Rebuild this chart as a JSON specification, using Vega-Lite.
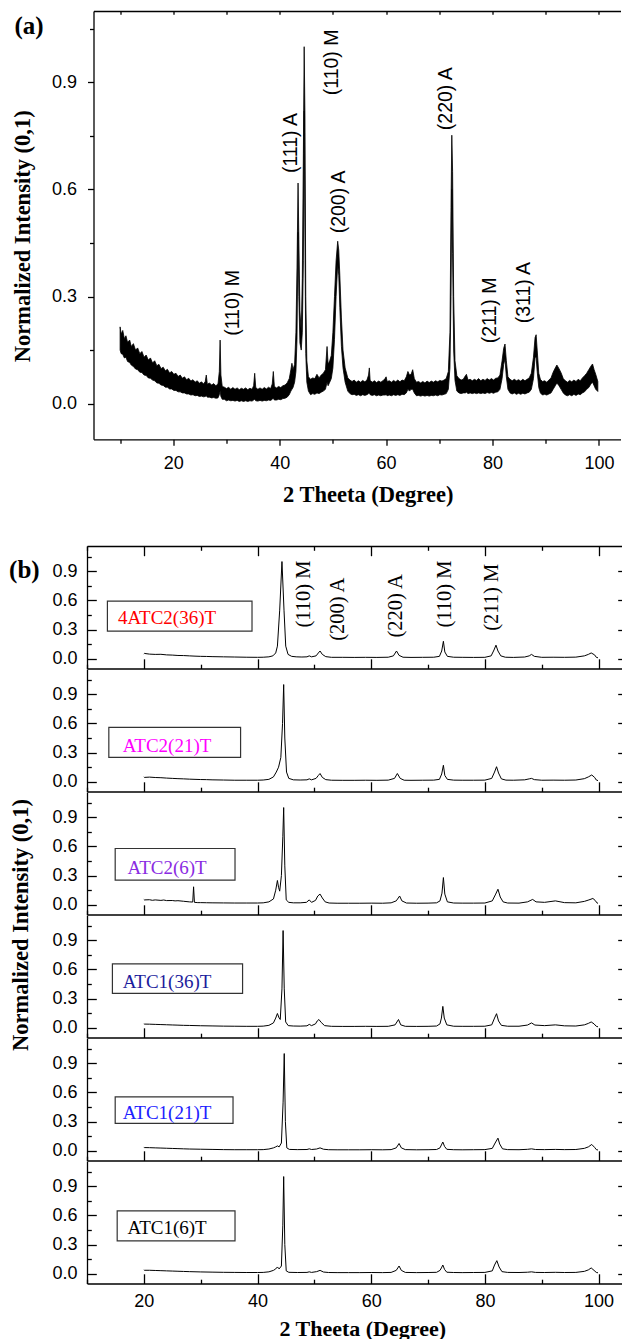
{
  "$schema": "https://vega.github.io/schema/vega-lite/v6.json",
  "padding": {"left": 8, "top": 10, "right": 0, "bottom": 0},
  "bounds": "flush",
  "center": true,
  "spacing": 0,
  "config": {
    "view": {"stroke": null},
    "axis": {"domainColor": "black", "tickColor": "black", "labelColor": "black", "titleColor": "black", "grid": false,
      "labelFont": "Liberation Sans", "labelFontSize": 18, "titleFont": "Liberation Serif", "titleFontSize": 22.5,
      "titleFontWeight": "bold", "domainWidth": 1.3, "tickWidth": 1.3, "labelFlush": false, "labelOverlap": false}
  },
  "datasets": {
    "a": [
      {"x":10,"lo":0.150,"hi":0.215},{"x":10.2,"lo":0.140,"hi":0.195},{"x":10.5,"lo":0.138,"hi":0.205},{"x":10.8,"lo":0.128,"hi":0.182},{"x":11.1,"lo":0.130,"hi":0.190},{"x":11.4,"lo":0.118,"hi":0.172},{"x":11.8,"lo":0.115,"hi":0.178},{"x":12.1,"lo":0.108,"hi":0.160},{"x":12.5,"lo":0.104,"hi":0.168},{"x":12.9,"lo":0.097,"hi":0.150},{"x":13.3,"lo":0.095,"hi":0.156},{"x":13.7,"lo":0.088,"hi":0.140},{"x":14.1,"lo":0.087,"hi":0.146},{"x":14.5,"lo":0.080,"hi":0.130},{"x":14.9,"lo":0.079,"hi":0.136},{"x":15.3,"lo":0.072,"hi":0.122},{"x":15.7,"lo":0.071,"hi":0.128},{"x":16.1,"lo":0.066,"hi":0.114},{"x":16.5,"lo":0.064,"hi":0.120},{"x":16.9,"lo":0.058,"hi":0.106},{"x":17.3,"lo":0.057,"hi":0.110},{"x":17.7,"lo":0.052,"hi":0.098},{"x":18.1,"lo":0.051,"hi":0.102},{"x":18.5,"lo":0.046,"hi":0.092},{"x":18.9,"lo":0.046,"hi":0.096},{"x":19.3,"lo":0.041,"hi":0.086},{"x":19.7,"lo":0.041,"hi":0.090},{"x":20.1,"lo":0.037,"hi":0.082},{"x":20.5,"lo":0.037,"hi":0.085},{"x":20.9,"lo":0.033,"hi":0.076},{"x":21.3,"lo":0.033,"hi":0.080},{"x":21.7,"lo":0.030,"hi":0.071},{"x":22.1,"lo":0.030,"hi":0.075},{"x":22.5,"lo":0.027,"hi":0.067},{"x":22.9,"lo":0.027,"hi":0.071},{"x":23.3,"lo":0.024,"hi":0.063},{"x":23.7,"lo":0.025,"hi":0.067},{"x":24.1,"lo":0.022,"hi":0.060},{"x":24.5,"lo":0.023,"hi":0.064},{"x":24.9,"lo":0.020,"hi":0.057},{"x":25.3,"lo":0.021,"hi":0.061},{"x":25.7,"lo":0.019,"hi":0.055},{"x":26.0,"lo":0.020,"hi":0.062},{"x":26.2,"lo":0.022,"hi":0.080},{"x":26.4,"lo":0.018,"hi":0.054},{"x":26.8,"lo":0.018,"hi":0.058},{"x":27.2,"lo":0.016,"hi":0.052},{"x":27.6,"lo":0.017,"hi":0.056},{"x":28.0,"lo":0.015,"hi":0.050},{"x":28.4,"lo":0.016,"hi":0.055},{"x":28.65,"lo":0.025,"hi":0.090},{"x":28.8,"lo":0.035,"hi":0.178},{"x":28.95,"lo":0.020,"hi":0.080},{"x":29.2,"lo":0.012,"hi":0.048},{"x":29.6,"lo":0.012,"hi":0.046},{"x":30.0,"lo":0.008,"hi":0.042},{"x":30.4,"lo":0.010,"hi":0.046},{"x":30.8,"lo":0.008,"hi":0.040},{"x":31.2,"lo":0.009,"hi":0.045},{"x":31.6,"lo":0.007,"hi":0.040},{"x":32.0,"lo":0.009,"hi":0.044},{"x":32.4,"lo":0.006,"hi":0.039},{"x":32.8,"lo":0.008,"hi":0.043},{"x":33.2,"lo":0.006,"hi":0.040},{"x":33.6,"lo":0.008,"hi":0.044},{"x":34.0,"lo":0.006,"hi":0.039},{"x":34.4,"lo":0.008,"hi":0.043},{"x":34.8,"lo":0.007,"hi":0.040},{"x":35.1,"lo":0.010,"hi":0.050},{"x":35.3,"lo":0.012,"hi":0.085},{"x":35.5,"lo":0.008,"hi":0.045},{"x":35.9,"lo":0.007,"hi":0.040},{"x":36.3,"lo":0.009,"hi":0.044},{"x":36.7,"lo":0.007,"hi":0.040},{"x":37.1,"lo":0.009,"hi":0.045},{"x":37.5,"lo":0.008,"hi":0.041},{"x":37.9,"lo":0.010,"hi":0.046},{"x":38.3,"lo":0.009,"hi":0.042},{"x":38.6,"lo":0.012,"hi":0.055},{"x":38.8,"lo":0.015,"hi":0.090},{"x":39.0,"lo":0.010,"hi":0.048},{"x":39.4,"lo":0.010,"hi":0.044},{"x":39.8,"lo":0.012,"hi":0.048},{"x":40.2,"lo":0.011,"hi":0.045},{"x":40.6,"lo":0.014,"hi":0.050},{"x":41.0,"lo":0.015,"hi":0.052},{"x":41.4,"lo":0.018,"hi":0.058},{"x":41.8,"lo":0.025,"hi":0.070},{"x":42.1,"lo":0.035,"hi":0.095},{"x":42.3,"lo":0.040,"hi":0.113},{"x":42.5,"lo":0.045,"hi":0.095},{"x":42.8,"lo":0.060,"hi":0.110},{"x":43.05,"lo":0.090,"hi":0.200},{"x":43.25,"lo":0.180,"hi":0.380},{"x":43.45,"lo":0.480,"hi":0.618},{"x":43.6,"lo":0.300,"hi":0.460},{"x":43.8,"lo":0.170,"hi":0.260},{"x":44.05,"lo":0.150,"hi":0.200},{"x":44.25,"lo":0.200,"hi":0.350},{"x":44.45,"lo":0.400,"hi":0.700},{"x":44.6,"lo":0.820,"hi":1.000},{"x":44.75,"lo":0.450,"hi":0.800},{"x":44.9,"lo":0.140,"hi":0.300},{"x":45.1,"lo":0.060,"hi":0.120},{"x":45.4,"lo":0.035,"hi":0.075},{"x":45.8,"lo":0.025,"hi":0.068},{"x":46.2,"lo":0.028,"hi":0.072},{"x":46.6,"lo":0.026,"hi":0.070},{"x":47.0,"lo":0.030,"hi":0.082},{"x":47.4,"lo":0.028,"hi":0.072},{"x":47.8,"lo":0.032,"hi":0.080},{"x":48.2,"lo":0.035,"hi":0.085},{"x":48.6,"lo":0.040,"hi":0.095},{"x":48.9,"lo":0.060,"hi":0.160},{"x":49.1,"lo":0.050,"hi":0.110},{"x":49.4,"lo":0.060,"hi":0.120},{"x":49.7,"lo":0.070,"hi":0.135},{"x":50.0,"lo":0.100,"hi":0.200},{"x":50.3,"lo":0.180,"hi":0.300},{"x":50.6,"lo":0.300,"hi":0.400},{"x":50.9,"lo":0.390,"hi":0.455},{"x":51.1,"lo":0.360,"hi":0.430},{"x":51.3,"lo":0.270,"hi":0.360},{"x":51.6,"lo":0.160,"hi":0.240},{"x":51.9,"lo":0.100,"hi":0.150},{"x":52.3,"lo":0.060,"hi":0.100},{"x":52.8,"lo":0.035,"hi":0.072},{"x":53.2,"lo":0.028,"hi":0.066},{"x":53.6,"lo":0.025,"hi":0.062},{"x":54.0,"lo":0.026,"hi":0.066},{"x":54.4,"lo":0.023,"hi":0.060},{"x":54.8,"lo":0.025,"hi":0.064},{"x":55.2,"lo":0.022,"hi":0.060},{"x":55.6,"lo":0.025,"hi":0.065},{"x":56.0,"lo":0.023,"hi":0.061},{"x":56.4,"lo":0.025,"hi":0.066},{"x":56.7,"lo":0.028,"hi":0.080},{"x":56.85,"lo":0.030,"hi":0.100},{"x":57.0,"lo":0.025,"hi":0.065},{"x":57.4,"lo":0.023,"hi":0.060},{"x":57.8,"lo":0.025,"hi":0.064},{"x":58.2,"lo":0.022,"hi":0.059},{"x":58.6,"lo":0.024,"hi":0.063},{"x":59.0,"lo":0.022,"hi":0.060},{"x":59.4,"lo":0.024,"hi":0.064},{"x":59.8,"lo":0.024,"hi":0.070},{"x":60.0,"lo":0.025,"hi":0.075},{"x":60.2,"lo":0.022,"hi":0.062},{"x":60.6,"lo":0.024,"hi":0.064},{"x":61.0,"lo":0.022,"hi":0.060},{"x":61.4,"lo":0.025,"hi":0.065},{"x":61.8,"lo":0.023,"hi":0.061},{"x":62.2,"lo":0.025,"hi":0.066},{"x":62.6,"lo":0.023,"hi":0.061},{"x":63.0,"lo":0.026,"hi":0.066},{"x":63.4,"lo":0.025,"hi":0.064},{"x":63.8,"lo":0.030,"hi":0.075},{"x":64.1,"lo":0.040,"hi":0.090},{"x":64.4,"lo":0.035,"hi":0.080},{"x":64.7,"lo":0.040,"hi":0.082},{"x":65.0,"lo":0.040,"hi":0.095},{"x":65.3,"lo":0.030,"hi":0.070},{"x":65.7,"lo":0.022,"hi":0.060},{"x":66.1,"lo":0.023,"hi":0.062},{"x":66.5,"lo":0.021,"hi":0.058},{"x":66.9,"lo":0.023,"hi":0.062},{"x":67.3,"lo":0.021,"hi":0.058},{"x":67.7,"lo":0.023,"hi":0.063},{"x":68.1,"lo":0.021,"hi":0.059},{"x":68.5,"lo":0.023,"hi":0.063},{"x":68.9,"lo":0.022,"hi":0.060},{"x":69.3,"lo":0.024,"hi":0.064},{"x":69.7,"lo":0.022,"hi":0.061},{"x":70.1,"lo":0.025,"hi":0.065},{"x":70.5,"lo":0.024,"hi":0.063},{"x":70.9,"lo":0.026,"hi":0.066},{"x":71.3,"lo":0.028,"hi":0.070},{"x":71.7,"lo":0.040,"hi":0.090},{"x":72.0,"lo":0.100,"hi":0.200},{"x":72.2,"lo":0.300,"hi":0.550},{"x":72.35,"lo":0.600,"hi":0.752},{"x":72.5,"lo":0.420,"hi":0.650},{"x":72.7,"lo":0.150,"hi":0.300},{"x":72.95,"lo":0.065,"hi":0.120},{"x":73.3,"lo":0.035,"hi":0.078},{"x":73.7,"lo":0.030,"hi":0.070},{"x":74.1,"lo":0.028,"hi":0.066},{"x":74.5,"lo":0.030,"hi":0.068},{"x":74.9,"lo":0.030,"hi":0.078},{"x":75.1,"lo":0.032,"hi":0.082},{"x":75.4,"lo":0.028,"hi":0.066},{"x":75.8,"lo":0.030,"hi":0.068},{"x":76.2,"lo":0.028,"hi":0.064},{"x":76.6,"lo":0.030,"hi":0.068},{"x":77.0,"lo":0.028,"hi":0.065},{"x":77.4,"lo":0.030,"hi":0.070},{"x":77.8,"lo":0.028,"hi":0.064},{"x":78.2,"lo":0.030,"hi":0.068},{"x":78.6,"lo":0.028,"hi":0.065},{"x":79.0,"lo":0.031,"hi":0.070},{"x":79.4,"lo":0.029,"hi":0.066},{"x":79.8,"lo":0.031,"hi":0.070},{"x":80.2,"lo":0.029,"hi":0.066},{"x":80.6,"lo":0.032,"hi":0.071},{"x":81.0,"lo":0.033,"hi":0.072},{"x":81.4,"lo":0.040,"hi":0.080},{"x":81.8,"lo":0.070,"hi":0.120},{"x":82.1,"lo":0.110,"hi":0.155},{"x":82.35,"lo":0.125,"hi":0.167},{"x":82.6,"lo":0.075,"hi":0.120},{"x":82.9,"lo":0.040,"hi":0.075},{"x":83.3,"lo":0.030,"hi":0.068},{"x":83.7,"lo":0.027,"hi":0.064},{"x":84.1,"lo":0.030,"hi":0.068},{"x":84.5,"lo":0.026,"hi":0.064},{"x":84.9,"lo":0.029,"hi":0.067},{"x":85.3,"lo":0.026,"hi":0.063},{"x":85.7,"lo":0.029,"hi":0.068},{"x":86.1,"lo":0.027,"hi":0.064},{"x":86.5,"lo":0.030,"hi":0.068},{"x":86.9,"lo":0.032,"hi":0.072},{"x":87.3,"lo":0.040,"hi":0.085},{"x":87.7,"lo":0.070,"hi":0.130},{"x":88.0,"lo":0.130,"hi":0.185},{"x":88.2,"lo":0.130,"hi":0.193},{"x":88.4,"lo":0.090,"hi":0.150},{"x":88.7,"lo":0.045,"hi":0.085},{"x":89.0,"lo":0.030,"hi":0.068},{"x":89.4,"lo":0.024,"hi":0.062},{"x":89.8,"lo":0.026,"hi":0.064},{"x":90.2,"lo":0.024,"hi":0.060},{"x":90.6,"lo":0.027,"hi":0.066},{"x":91.0,"lo":0.030,"hi":0.072},{"x":91.4,"lo":0.040,"hi":0.088},{"x":91.8,"lo":0.050,"hi":0.100},{"x":92.1,"lo":0.058,"hi":0.108},{"x":92.5,"lo":0.050,"hi":0.098},{"x":92.9,"lo":0.040,"hi":0.086},{"x":93.3,"lo":0.030,"hi":0.070},{"x":93.7,"lo":0.024,"hi":0.064},{"x":94.1,"lo":0.022,"hi":0.060},{"x":94.5,"lo":0.025,"hi":0.065},{"x":94.9,"lo":0.022,"hi":0.061},{"x":95.3,"lo":0.026,"hi":0.066},{"x":95.7,"lo":0.023,"hi":0.062},{"x":96.1,"lo":0.027,"hi":0.068},{"x":96.5,"lo":0.025,"hi":0.064},{"x":96.9,"lo":0.030,"hi":0.072},{"x":97.3,"lo":0.033,"hi":0.078},{"x":97.7,"lo":0.040,"hi":0.085},{"x":98.1,"lo":0.045,"hi":0.095},{"x":98.5,"lo":0.055,"hi":0.105},{"x":98.8,"lo":0.060,"hi":0.111},{"x":99.1,"lo":0.050,"hi":0.095},{"x":99.4,"lo":0.040,"hi":0.082},{"x":99.8,"lo":0.034,"hi":0.062}
    ],
    "aLabels": [
      {"x":31.3,"y":0.19,"t":"(110) M"},{"x":42.1,"y":0.646,"t":"(111) A"},{"x":49.8,"y":0.864,"t":"(110) M"},{"x":51.1,"y":0.477,"t":"(200) A"},{"x":71.2,"y":0.766,"t":"(220) A"},{"x":79.6,"y":0.169,"t":"(211) M"},{"x":85.9,"y":0.225,"t":"(311) A"}
    ],
    "b1": [
      {"x":20,"y":0.050},{"x":20.1,"y":0.055},{"x":21,"y":0.048},{"x":22,"y":0.045},{"x":23,"y":0.046},{"x":24,"y":0.040},{"x":25,"y":0.038},{"x":26,"y":0.034},{"x":27,"y":0.033},{"x":28,"y":0.030},{"x":29,"y":0.027},{"x":30,"y":0.025},{"x":31,"y":0.024},{"x":32,"y":0.022},{"x":34,"y":0.020},{"x":36,"y":0.018},{"x":38,"y":0.016},{"x":40,"y":0.015},{"x":41,"y":0.016},{"x":42,"y":0.020},{"x":42.7,"y":0.030},{"x":43.2,"y":0.060},{"x":43.5,"y":0.130},{"x":43.9,"y":0.500},{"x":44.3,"y":1.000},{"x":44.66,"y":0.500},{"x":44.96,"y":0.130},{"x":45.37,"y":0.045},{"x":46,"y":0.025},{"x":46.8,"y":0.020},{"x":47.8,"y":0.018},{"x":48.7,"y":0.020},{"x":49.1,"y":0.030},{"x":49.5,"y":0.020},{"x":50.3,"y":0.030},{"x":50.7,"y":0.060},{"x":51.0,"y":0.080},{"x":51.4,"y":0.045},{"x":52.0,"y":0.022},{"x":53,"y":0.015},{"x":55,"y":0.015},{"x":57,"y":0.014},{"x":59,"y":0.015},{"x":61,"y":0.014},{"x":63,"y":0.016},{"x":63.9,"y":0.030},{"x":64.45,"y":0.080},{"x":64.9,"y":0.035},{"x":65.6,"y":0.016},{"x":67,"y":0.014},{"x":69,"y":0.015},{"x":71,"y":0.016},{"x":72.0,"y":0.025},{"x":72.4,"y":0.080},{"x":72.7,"y":0.180},{"x":72.95,"y":0.070},{"x":73.4,"y":0.025},{"x":74.5,"y":0.016},{"x":76,"y":0.015},{"x":78,"y":0.014},{"x":80,"y":0.015},{"x":81.1,"y":0.030},{"x":81.6,"y":0.090},{"x":81.95,"y":0.140},{"x":82.3,"y":0.080},{"x":82.8,"y":0.030},{"x":83.6,"y":0.016},{"x":85,"y":0.014},{"x":87,"y":0.018},{"x":87.8,"y":0.030},{"x":88.2,"y":0.045},{"x":88.7,"y":0.025},{"x":90,"y":0.015},{"x":92,"y":0.016},{"x":94,"y":0.015},{"x":96,"y":0.017},{"x":97.5,"y":0.030},{"x":98.2,"y":0.045},{"x":98.7,"y":0.060},{"x":99.3,"y":0.040},{"x":99.6,"y":0.015},{"x":99.9,"y":0.010}
    ],
    "b2": [
      {"x":20,"y":0.050},{"x":20.1,"y":0.045},{"x":21,"y":0.048},{"x":22,"y":0.044},{"x":23,"y":0.042},{"x":24,"y":0.038},{"x":25,"y":0.035},{"x":26,"y":0.032},{"x":27,"y":0.030},{"x":28,"y":0.027},{"x":29,"y":0.025},{"x":30,"y":0.023},{"x":31,"y":0.022},{"x":32,"y":0.020},{"x":34,"y":0.018},{"x":36,"y":0.016},{"x":38,"y":0.016},{"x":40,"y":0.016},{"x":41,"y":0.018},{"x":42,"y":0.025},{"x":42.8,"y":0.050},{"x":43.3,"y":0.100},{"x":43.7,"y":0.150},{"x":44.1,"y":0.250},{"x":44.4,"y":0.600},{"x":44.6,"y":1.000},{"x":44.8,"y":0.450},{"x":45.1,"y":0.100},{"x":45.5,"y":0.035},{"x":46.3,"y":0.020},{"x":47.5,"y":0.018},{"x":48.7,"y":0.020},{"x":49.1,"y":0.030},{"x":49.5,"y":0.020},{"x":50.3,"y":0.035},{"x":50.7,"y":0.065},{"x":51.0,"y":0.085},{"x":51.4,"y":0.045},{"x":52.0,"y":0.022},{"x":53,"y":0.016},{"x":55,"y":0.015},{"x":57,"y":0.015},{"x":59,"y":0.016},{"x":61,"y":0.015},{"x":63,"y":0.017},{"x":64.1,"y":0.035},{"x":64.6,"y":0.085},{"x":65.1,"y":0.035},{"x":65.8,"y":0.016},{"x":67,"y":0.015},{"x":69,"y":0.016},{"x":71,"y":0.017},{"x":72.0,"y":0.025},{"x":72.4,"y":0.080},{"x":72.7,"y":0.170},{"x":72.95,"y":0.065},{"x":73.4,"y":0.025},{"x":74.5,"y":0.017},{"x":76,"y":0.016},{"x":78,"y":0.016},{"x":80,"y":0.017},{"x":81.2,"y":0.035},{"x":81.7,"y":0.100},{"x":82.05,"y":0.155},{"x":82.4,"y":0.090},{"x":82.9,"y":0.030},{"x":83.7,"y":0.017},{"x":85,"y":0.016},{"x":87,"y":0.020},{"x":87.8,"y":0.030},{"x":88.2,"y":0.035},{"x":88.7,"y":0.022},{"x":90,"y":0.016},{"x":92,"y":0.017},{"x":94,"y":0.016},{"x":96,"y":0.018},{"x":97.5,"y":0.032},{"x":98.2,"y":0.050},{"x":98.8,"y":0.070},{"x":99.3,"y":0.045},{"x":99.6,"y":0.018},{"x":99.9,"y":0.012}
    ],
    "b3": [
      {"x":20,"y":0.055},{"x":20.1,"y":0.050},{"x":21,"y":0.052},{"x":21.5,"y":0.046},{"x":22,"y":0.050},{"x":23,"y":0.045},{"x":23.5,"y":0.049},{"x":24,"y":0.043},{"x":25,"y":0.044},{"x":25.5,"y":0.040},{"x":26,"y":0.042},{"x":27,"y":0.036},{"x":28,"y":0.030},{"x":28.6,"y":0.028},{"x":28.75,"y":0.185},{"x":28.9,"y":0.025},{"x":29.5,"y":0.022},{"x":30,"y":0.022},{"x":31,"y":0.021},{"x":32,"y":0.020},{"x":34,"y":0.019},{"x":36,"y":0.018},{"x":38,"y":0.018},{"x":40,"y":0.018},{"x":41,"y":0.020},{"x":42,"y":0.030},{"x":42.8,"y":0.060},{"x":43.2,"y":0.150},{"x":43.5,"y":0.250},{"x":43.7,"y":0.180},{"x":43.9,"y":0.140},{"x":44.2,"y":0.300},{"x":44.45,"y":0.700},{"x":44.6,"y":1.000},{"x":44.8,"y":0.400},{"x":45.05,"y":0.050},{"x":45.5,"y":0.025},{"x":46.3,"y":0.020},{"x":47.5,"y":0.020},{"x":48.6,"y":0.025},{"x":49.1,"y":0.050},{"x":49.5,"y":0.025},{"x":50.2,"y":0.045},{"x":50.6,"y":0.090},{"x":51.0,"y":0.110},{"x":51.4,"y":0.070},{"x":51.9,"y":0.030},{"x":52.6,"y":0.018},{"x":54,"y":0.016},{"x":56,"y":0.016},{"x":58,"y":0.016},{"x":60,"y":0.017},{"x":62,"y":0.016},{"x":63.5,"y":0.020},{"x":64.4,"y":0.040},{"x":65.0,"y":0.090},{"x":65.4,"y":0.040},{"x":66.2,"y":0.018},{"x":68,"y":0.016},{"x":70,"y":0.017},{"x":71.5,"y":0.020},{"x":72.1,"y":0.040},{"x":72.45,"y":0.120},{"x":72.7,"y":0.280},{"x":72.95,"y":0.110},{"x":73.4,"y":0.030},{"x":74.5,"y":0.018},{"x":76,"y":0.017},{"x":78,"y":0.017},{"x":80,"y":0.018},{"x":81.3,"y":0.040},{"x":81.9,"y":0.110},{"x":82.3,"y":0.160},{"x":82.7,"y":0.080},{"x":83.2,"y":0.030},{"x":84,"y":0.018},{"x":86,"y":0.017},{"x":87.5,"y":0.030},{"x":88.4,"y":0.055},{"x":89.0,"y":0.030},{"x":90.5,"y":0.025},{"x":92.4,"y":0.040},{"x":94,"y":0.022},{"x":96,"y":0.020},{"x":97.5,"y":0.035},{"x":98.3,"y":0.050},{"x":99.0,"y":0.065},{"x":99.4,"y":0.045},{"x":99.7,"y":0.020},{"x":99.9,"y":0.015}
    ],
    "b4": [
      {"x":20,"y":0.040},{"x":20.1,"y":0.038},{"x":21,"y":0.037},{"x":22,"y":0.035},{"x":23,"y":0.033},{"x":24,"y":0.031},{"x":25,"y":0.029},{"x":26,"y":0.027},{"x":27,"y":0.025},{"x":28,"y":0.024},{"x":30,"y":0.021},{"x":32,"y":0.019},{"x":34,"y":0.017},{"x":36,"y":0.016},{"x":38,"y":0.015},{"x":40,"y":0.015},{"x":41,"y":0.017},{"x":42,"y":0.025},{"x":42.8,"y":0.050},{"x":43.2,"y":0.100},{"x":43.5,"y":0.147},{"x":43.8,"y":0.100},{"x":44.0,"y":0.085},{"x":44.3,"y":0.400},{"x":44.5,"y":1.000},{"x":44.7,"y":0.400},{"x":44.95,"y":0.060},{"x":45.4,"y":0.022},{"x":46.3,"y":0.018},{"x":47.5,"y":0.017},{"x":48.7,"y":0.020},{"x":49.1,"y":0.035},{"x":49.5,"y":0.022},{"x":50.2,"y":0.040},{"x":50.5,"y":0.070},{"x":50.8,"y":0.085},{"x":51.2,"y":0.055},{"x":51.8,"y":0.022},{"x":53,"y":0.015},{"x":55,"y":0.014},{"x":57,"y":0.014},{"x":59,"y":0.015},{"x":61,"y":0.014},{"x":63,"y":0.015},{"x":64.2,"y":0.030},{"x":64.8,"y":0.085},{"x":65.2,"y":0.030},{"x":66,"y":0.015},{"x":68,"y":0.014},{"x":70,"y":0.015},{"x":71.5,"y":0.018},{"x":72.1,"y":0.040},{"x":72.35,"y":0.100},{"x":72.6,"y":0.220},{"x":72.85,"y":0.100},{"x":73.3,"y":0.030},{"x":74.5,"y":0.016},{"x":76,"y":0.015},{"x":78,"y":0.015},{"x":80,"y":0.016},{"x":81.2,"y":0.030},{"x":81.7,"y":0.100},{"x":82.05,"y":0.145},{"x":82.4,"y":0.070},{"x":82.9,"y":0.025},{"x":84,"y":0.016},{"x":86,"y":0.016},{"x":87.5,"y":0.028},{"x":88.2,"y":0.050},{"x":88.8,"y":0.028},{"x":90.5,"y":0.022},{"x":92.4,"y":0.030},{"x":94,"y":0.020},{"x":96,"y":0.018},{"x":97.5,"y":0.030},{"x":98.2,"y":0.045},{"x":98.7,"y":0.060},{"x":99.2,"y":0.040},{"x":99.6,"y":0.015},{"x":99.9,"y":0.010}
    ],
    "b5": [
      {"x":20,"y":0.035},{"x":20.1,"y":0.033},{"x":21,"y":0.032},{"x":22,"y":0.030},{"x":23,"y":0.028},{"x":24,"y":0.026},{"x":25,"y":0.024},{"x":26,"y":0.022},{"x":27,"y":0.020},{"x":28,"y":0.018},{"x":30,"y":0.016},{"x":32,"y":0.014},{"x":34,"y":0.012},{"x":36,"y":0.011},{"x":38,"y":0.011},{"x":40,"y":0.011},{"x":41,"y":0.012},{"x":42,"y":0.018},{"x":42.8,"y":0.030},{"x":43.2,"y":0.040},{"x":43.5,"y":0.050},{"x":43.8,"y":0.040},{"x":44.2,"y":0.080},{"x":44.5,"y":0.500},{"x":44.7,"y":1.000},{"x":44.9,"y":0.300},{"x":45.15,"y":0.030},{"x":45.6,"y":0.014},{"x":47,"y":0.012},{"x":48.7,"y":0.013},{"x":49.1,"y":0.020},{"x":49.5,"y":0.013},{"x":50.4,"y":0.018},{"x":51.0,"y":0.030},{"x":51.6,"y":0.016},{"x":52.5,"y":0.011},{"x":54,"y":0.010},{"x":56,"y":0.010},{"x":58,"y":0.010},{"x":60,"y":0.011},{"x":62,"y":0.010},{"x":63.5,"y":0.012},{"x":64.4,"y":0.030},{"x":64.9,"y":0.075},{"x":65.3,"y":0.030},{"x":66,"y":0.012},{"x":68,"y":0.010},{"x":70,"y":0.011},{"x":71.5,"y":0.013},{"x":72.1,"y":0.030},{"x":72.35,"y":0.060},{"x":72.6,"y":0.090},{"x":72.9,"y":0.045},{"x":73.3,"y":0.015},{"x":74.5,"y":0.011},{"x":76,"y":0.010},{"x":78,"y":0.011},{"x":80,"y":0.012},{"x":81.3,"y":0.025},{"x":81.8,"y":0.080},{"x":82.3,"y":0.130},{"x":82.6,"y":0.070},{"x":83.1,"y":0.020},{"x":84,"y":0.012},{"x":86,"y":0.011},{"x":87.5,"y":0.015},{"x":88.2,"y":0.020},{"x":88.9,"y":0.013},{"x":90.5,"y":0.012},{"x":92.4,"y":0.014},{"x":94,"y":0.012},{"x":96,"y":0.013},{"x":97.5,"y":0.025},{"x":98.2,"y":0.040},{"x":98.8,"y":0.065},{"x":99.3,"y":0.035},{"x":99.6,"y":0.012},{"x":99.9,"y":0.008}
    ],
    "b6": [
      {"x":20,"y":0.040},{"x":20.1,"y":0.036},{"x":21,"y":0.036},{"x":22,"y":0.034},{"x":23,"y":0.032},{"x":24,"y":0.030},{"x":25,"y":0.028},{"x":26,"y":0.026},{"x":27,"y":0.024},{"x":28,"y":0.022},{"x":30,"y":0.019},{"x":32,"y":0.017},{"x":34,"y":0.015},{"x":36,"y":0.014},{"x":38,"y":0.013},{"x":40,"y":0.013},{"x":41,"y":0.014},{"x":42,"y":0.020},{"x":42.8,"y":0.035},{"x":43.2,"y":0.050},{"x":43.5,"y":0.070},{"x":43.8,"y":0.050},{"x":44.2,"y":0.080},{"x":44.45,"y":0.500},{"x":44.6,"y":1.000},{"x":44.8,"y":0.300},{"x":45.05,"y":0.030},{"x":45.5,"y":0.015},{"x":47,"y":0.013},{"x":48.7,"y":0.014},{"x":49.1,"y":0.020},{"x":49.5,"y":0.014},{"x":50.4,"y":0.022},{"x":51.0,"y":0.035},{"x":51.6,"y":0.018},{"x":52.5,"y":0.013},{"x":54,"y":0.012},{"x":56,"y":0.012},{"x":58,"y":0.012},{"x":60,"y":0.013},{"x":62,"y":0.012},{"x":63.5,"y":0.014},{"x":64.4,"y":0.035},{"x":64.9,"y":0.080},{"x":65.3,"y":0.035},{"x":66,"y":0.014},{"x":68,"y":0.012},{"x":70,"y":0.013},{"x":71.5,"y":0.015},{"x":72.1,"y":0.035},{"x":72.35,"y":0.060},{"x":72.6,"y":0.090},{"x":72.9,"y":0.045},{"x":73.3,"y":0.016},{"x":74.5,"y":0.013},{"x":76,"y":0.012},{"x":78,"y":0.013},{"x":80,"y":0.014},{"x":81.3,"y":0.030},{"x":81.7,"y":0.090},{"x":82.1,"y":0.135},{"x":82.5,"y":0.070},{"x":83.0,"y":0.022},{"x":84,"y":0.014},{"x":86,"y":0.013},{"x":87.5,"y":0.016},{"x":88.2,"y":0.020},{"x":88.9,"y":0.014},{"x":90.5,"y":0.013},{"x":92.4,"y":0.015},{"x":94,"y":0.013},{"x":96,"y":0.014},{"x":97.5,"y":0.025},{"x":98.2,"y":0.040},{"x":98.7,"y":0.060},{"x":99.2,"y":0.035},{"x":99.6,"y":0.014},{"x":99.9,"y":0.010}
    ],
    "b1Labels": [
      {"x":48.12,"y":0.322,"t":"(110) M"},{"x":54.16,"y":0.185,"t":"(200) A"},{"x":64.31,"y":0.219,"t":"(220) A"},{"x":72.93,"y":0.322,"t":"(110) M"},{"x":81.32,"y":0.288,"t":"(211) M"}
    ]
  },
  "vconcat": [
    {
      "width": 527, "height": 428.3,
      "layer": [
        {
          "data": {"name": "a"},
          "mark": {"type": "area", "color": "black", "stroke": "black", "strokeWidth": 0.8},
          "encoding": {
            "x": {"field": "x", "type": "quantitative", "scale": {"domain": [5, 104.06], "nice": false, "zero": false},
              "axis": {"orient": "bottom", "values": [10,20,30,40,50,60,70,80,90,100],
                "tickSize": {"condition": {"test": "datum.value % 20 == 0", "value": 6}, "value": 4},
                "labelExpr": "datum.value % 20 == 0 ? datum.label : ''", "labelPadding": 9,
                "title": "2 Theeta (Degree)", "titleX": 274.2, "titleY": 55, "titleAlign": "center", "titleBaseline": "middle"}},
            "y": {"field": "lo", "type": "quantitative", "scale": {"domain": [-0.1, 1.1], "nice": false, "zero": false},
              "axis": {"orient": "left", "values": [0,0.15,0.3,0.45,0.6,0.75,0.9,1.05],
                "tickSize": {"condition": {"test": "round(datum.value*20)%6==0", "value": 6}, "value": 4},
                "labelExpr": "round(datum.value*20)%6==0 ? format(datum.value,'.1f') : ''", "labelPadding": 11,
                "title": "Normalized Intensity (0,1)", "titleAngle": 270, "titleX": -71, "titleY": 224.8, "titleAlign": "center", "titleBaseline": "middle"}},
            "y2": {"field": "hi"}
          }
        },
        {
          "data": {"name": "aLabels"},
          "mark": {"type": "text", "angle": 270, "align": "left", "baseline": "middle", "font": "Liberation Sans", "fontSize": 19.5, "color": "black"},
          "encoding": {
            "x": {"field": "x", "type": "quantitative", "scale": {"domain": [5, 104.06], "nice": false, "zero": false},
              "axis": {"orient": "top", "values": [10,20,30,40,50,60,70,80,90,100], "tickSize": -3.3, "labels": false,
                "title": "(a)", "titleAngle": 0, "titleX": -65, "titleY": 14.5, "titleAlign": "center", "titleBaseline": "middle", "titleFontSize": 25}},
            "y": {"field": "y", "type": "quantitative"},
            "text": {"field": "t"}
          }
        }
      ],
      "resolve": {"axis": {"x": "independent"}}
    },
    {
      "width": 540, "height": 106,
      "data": {"values": [{"t": ""}]},
      "mark": {"type": "text"},
      "encoding": {"text": {"field": "t"}}
    },
    {
      "width": 540, "height": 122.5,
      "layer": [
        {"data": {"name": "b1"}, "mark": {"type": "line", "color": "black", "strokeWidth": 1},
          "encoding": {
            "x": {"field": "x", "type": "quantitative", "scale": {"domain": [10, 105], "nice": false, "zero": false},
              "axis": {"orient": "bottom", "values": [10,20,30,40,50,60,70,80,90,100], "tickSize": {"condition": {"test": "datum.value % 20 == 0", "value": -9.7}, "value": -4.3}, "labels": false, "title": null}},
            "y": {"field": "y", "type": "quantitative", "scale": {"domain": [-0.1, 1.16], "nice": false, "zero": false},
              "axis": {"orient": "left", "values": [0,0.15,0.3,0.45,0.6,0.75,0.9,1.05], "tickSize": {"condition": {"test": "round(datum.value*20)%6==0", "value": -9.3}, "value": -4.3},
                "labelExpr": "round(datum.value*20)%6==0 ? format(datum.value,'.1f') : ''", "labelPadding": 19.3, "title": null}}}},
        {"data": {"values": [{"x1":13.59,"x2":39.03,"y1":0.592,"y2":0.284}]}, "mark": {"type": "rect", "filled": false, "color": "#333333", "strokeWidth": 1.2},
          "encoding": {
            "x": {"field": "x1", "type": "quantitative", "scale": {"domain": [10, 105], "nice": false, "zero": false},
              "axis": {"orient": "top", "values": [10,20,30,40,50,60,70,80,90,100], "tickSize": {"condition": {"test": "datum.value % 20 == 0", "value": -9.7}, "value": -4.3}, "labels": false,
                "title": "(b)", "titleAngle": 0, "titleX": -63.1, "titleY": 23, "titleAlign": "center", "titleBaseline": "middle", "titleFontSize": 25}},
            "x2": {"field": "x2"},
            "y": {"field": "y1", "type": "quantitative", "scale": {"domain": [-0.1, 1.16], "nice": false, "zero": false},
              "axis": {"orient": "right", "values": [0,0.15,0.3,0.45,0.6,0.75,0.9,1.05], "tickSize": {"condition": {"test": "round(datum.value*20)%6==0", "value": -9.3}, "value": -4.3}, "labels": false, "title": null}},
            "y2": {"field": "y2"}}},
        {"data": {"values": [{"tx":15.45,"ty":0.353,"label":"4ATC2(36)T"}]}, "mark": {"type": "text", "align": "left", "baseline": "alphabetic", "font": "Liberation Serif", "fontSize": 19, "color": "#ff0000"},
          "encoding": {"x": {"field": "tx", "type": "quantitative", "axis": null}, "y": {"field": "ty", "type": "quantitative", "axis": null}, "text": {"field": "label"}}},
        {"data": {"name": "b1Labels"}, "mark": {"type": "text", "angle": 270, "align": "left", "baseline": "middle", "font": "Liberation Serif", "fontSize": 20.5, "color": "black"},
          "encoding": {"x": {"field": "x", "type": "quantitative", "axis": null}, "y": {"field": "y", "type": "quantitative", "axis": null}, "text": {"field": "t"}}}
      ],
      "resolve": {"axis": {"x": "independent", "y": "independent"}}
    },
    {
      "width": 540, "height": 122.5,
      "layer": [
        {"data": {"name": "b2"}, "mark": {"type": "line", "color": "black", "strokeWidth": 1},
          "encoding": {
            "x": {"field": "x", "type": "quantitative", "scale": {"domain": [10, 105], "nice": false, "zero": false},
              "axis": {"orient": "bottom", "values": [10,20,30,40,50,60,70,80,90,100], "tickSize": {"condition": {"test": "datum.value % 20 == 0", "value": -9.7}, "value": -4.3}, "labels": false, "title": null}},
            "y": {"field": "y", "type": "quantitative", "scale": {"domain": [-0.1, 1.16], "nice": false, "zero": false},
              "axis": {"orient": "left", "values": [0,0.15,0.3,0.45,0.6,0.75,0.9,1.05], "tickSize": {"condition": {"test": "round(datum.value*20)%6==0", "value": -9.3}, "value": -4.3},
                "labelExpr": "round(datum.value*20)%6==0 ? format(datum.value,'.1f') : ''", "labelPadding": 19.3, "title": null}}}},
        {"data": {"values": [{"x1":13.84,"x2":37.02,"y1":0.559,"y2":0.251}]}, "mark": {"type": "rect", "filled": false, "color": "#333333", "strokeWidth": 1.2},
          "encoding": {
            "x": {"field": "x1", "type": "quantitative", "axis": null},
            "x2": {"field": "x2"},
            "y": {"field": "y1", "type": "quantitative",
              "axis": {"orient": "right", "values": [0,0.15,0.3,0.45,0.6,0.75,0.9,1.05], "tickSize": {"condition": {"test": "round(datum.value*20)%6==0", "value": -9.3}, "value": -4.3}, "labels": false, "title": null}},
            "y2": {"field": "y2"}}},
        {"data": {"values": [{"tx":16.28,"ty":0.304,"label":"ATC2(21)T"}]}, "mark": {"type": "text", "align": "left", "baseline": "alphabetic", "font": "Liberation Serif", "fontSize": 19, "color": "#ff00ff"},
          "encoding": {"x": {"field": "tx", "type": "quantitative", "axis": null}, "y": {"field": "ty", "type": "quantitative", "axis": null}, "text": {"field": "label"}}}
      ],
      "resolve": {"axis": {"x": "independent", "y": "independent"}}
    },
    {
      "width": 540, "height": 122.5,
      "layer": [
        {"data": {"name": "b3"}, "mark": {"type": "line", "color": "black", "strokeWidth": 1},
          "encoding": {
            "x": {"field": "x", "type": "quantitative", "scale": {"domain": [10, 105], "nice": false, "zero": false},
              "axis": {"orient": "bottom", "values": [10,20,30,40,50,60,70,80,90,100], "tickSize": {"condition": {"test": "datum.value % 20 == 0", "value": -9.7}, "value": -4.3}, "labels": false, "title": null}},
            "y": {"field": "y", "type": "quantitative", "scale": {"domain": [-0.1, 1.16], "nice": false, "zero": false},
              "axis": {"orient": "left", "values": [0,0.15,0.3,0.45,0.6,0.75,0.9,1.05], "tickSize": {"condition": {"test": "round(datum.value*20)%6==0", "value": -9.3}, "value": -4.3},
                "labelExpr": "round(datum.value*20)%6==0 ? format(datum.value,'.1f') : ''", "labelPadding": 19.3,
                "title": "Normalized Intensity (0,1)", "titleAngle": 270, "titleX": -66.3, "titleY": 132.5, "titleAlign": "center", "titleBaseline": "middle"}}}},
        {"data": {"values": [{"x1":14.96,"x2":36.04,"y1":0.579,"y2":0.254}]}, "mark": {"type": "rect", "filled": false, "color": "#333333", "strokeWidth": 1.2},
          "encoding": {
            "x": {"field": "x1", "type": "quantitative", "axis": null},
            "x2": {"field": "x2"},
            "y": {"field": "y1", "type": "quantitative",
              "axis": {"orient": "right", "values": [0,0.15,0.3,0.45,0.6,0.75,0.9,1.05], "tickSize": {"condition": {"test": "round(datum.value*20)%6==0", "value": -9.3}, "value": -4.3}, "labels": false, "title": null}},
            "y2": {"field": "y2"}}},
        {"data": {"values": [{"tx":17.13,"ty":0.315,"label":"ATC2(6)T"}]}, "mark": {"type": "text", "align": "left", "baseline": "alphabetic", "font": "Liberation Serif", "fontSize": 19, "color": "#8a2be2"},
          "encoding": {"x": {"field": "tx", "type": "quantitative", "axis": null}, "y": {"field": "ty", "type": "quantitative", "axis": null}, "text": {"field": "label"}}}
      ],
      "resolve": {"axis": {"x": "independent", "y": "independent"}}
    },
    {
      "width": 540, "height": 122.5,
      "layer": [
        {"data": {"name": "b4"}, "mark": {"type": "line", "color": "black", "strokeWidth": 1},
          "encoding": {
            "x": {"field": "x", "type": "quantitative", "scale": {"domain": [10, 105], "nice": false, "zero": false},
              "axis": {"orient": "bottom", "values": [10,20,30,40,50,60,70,80,90,100], "tickSize": {"condition": {"test": "datum.value % 20 == 0", "value": -9.7}, "value": -4.3}, "labels": false, "title": null}},
            "y": {"field": "y", "type": "quantitative", "scale": {"domain": [-0.1, 1.16], "nice": false, "zero": false},
              "axis": {"orient": "left", "values": [0,0.15,0.3,0.45,0.6,0.75,0.9,1.05], "tickSize": {"condition": {"test": "round(datum.value*20)%6==0", "value": -9.3}, "value": -4.3},
                "labelExpr": "round(datum.value*20)%6==0 ? format(datum.value,'.1f') : ''", "labelPadding": 19.3, "title": null}}}},
        {"data": {"values": [{"x1":14.47,"x2":37.37,"y1":0.658,"y2":0.354}]}, "mark": {"type": "rect", "filled": false, "color": "#333333", "strokeWidth": 1.2},
          "encoding": {
            "x": {"field": "x1", "type": "quantitative", "axis": null},
            "x2": {"field": "x2"},
            "y": {"field": "y1", "type": "quantitative",
              "axis": {"orient": "right", "values": [0,0.15,0.3,0.45,0.6,0.75,0.9,1.05], "tickSize": {"condition": {"test": "round(datum.value*20)%6==0", "value": -9.3}, "value": -4.3}, "labels": false, "title": null}},
            "y2": {"field": "y2"}}},
        {"data": {"values": [{"tx":16.28,"ty":0.411,"label":"ATC1(36)T"}]}, "mark": {"type": "text", "align": "left", "baseline": "alphabetic", "font": "Liberation Serif", "fontSize": 19, "color": "#1c1c9c"},
          "encoding": {"x": {"field": "tx", "type": "quantitative", "axis": null}, "y": {"field": "ty", "type": "quantitative", "axis": null}, "text": {"field": "label"}}}
      ],
      "resolve": {"axis": {"x": "independent", "y": "independent"}}
    },
    {
      "width": 540, "height": 122.5,
      "layer": [
        {"data": {"name": "b5"}, "mark": {"type": "line", "color": "black", "strokeWidth": 1},
          "encoding": {
            "x": {"field": "x", "type": "quantitative", "scale": {"domain": [10, 105], "nice": false, "zero": false},
              "axis": {"orient": "bottom", "values": [10,20,30,40,50,60,70,80,90,100], "tickSize": {"condition": {"test": "datum.value % 20 == 0", "value": -9.7}, "value": -4.3}, "labels": false, "title": null}},
            "y": {"field": "y", "type": "quantitative", "scale": {"domain": [-0.1, 1.16], "nice": false, "zero": false},
              "axis": {"orient": "left", "values": [0,0.15,0.3,0.45,0.6,0.75,0.9,1.05], "tickSize": {"condition": {"test": "round(datum.value*20)%6==0", "value": -9.3}, "value": -4.3},
                "labelExpr": "round(datum.value*20)%6==0 ? format(datum.value,'.1f') : ''", "labelPadding": 19.3, "title": null}}}},
        {"data": {"values": [{"x1":14.96,"x2":35.69,"y1":0.555,"y2":0.281}]}, "mark": {"type": "rect", "filled": false, "color": "#333333", "strokeWidth": 1.2},
          "encoding": {
            "x": {"field": "x1", "type": "quantitative", "axis": null},
            "x2": {"field": "x2"},
            "y": {"field": "y1", "type": "quantitative",
              "axis": {"orient": "right", "values": [0,0.15,0.3,0.45,0.6,0.75,0.9,1.05], "tickSize": {"condition": {"test": "round(datum.value*20)%6==0", "value": -9.3}, "value": -4.3}, "labels": false, "title": null}},
            "y2": {"field": "y2"}}},
        {"data": {"values": [{"tx":16.28,"ty":0.332,"label":"ATC1(21)T"}]}, "mark": {"type": "text", "align": "left", "baseline": "alphabetic", "font": "Liberation Serif", "fontSize": 19, "color": "#2020ff"},
          "encoding": {"x": {"field": "tx", "type": "quantitative", "axis": null}, "y": {"field": "ty", "type": "quantitative", "axis": null}, "text": {"field": "label"}}}
      ],
      "resolve": {"axis": {"x": "independent", "y": "independent"}}
    },
    {
      "width": 540, "height": 122.5,
      "layer": [
        {"data": {"name": "b6"}, "mark": {"type": "line", "color": "black", "strokeWidth": 1},
          "encoding": {
            "x": {"field": "x", "type": "quantitative", "scale": {"domain": [10, 105], "nice": false, "zero": false},
              "axis": {"orient": "bottom", "values": [10,20,30,40,50,60,70,80,90,100], "tickSize": {"condition": {"test": "datum.value % 20 == 0", "value": -9.7}, "value": -4.3},
                "labelExpr": "datum.value % 20 == 0 ? datum.label : ''", "labelPadding": 19,
                "title": "2 Theeta (Degree)", "titleX": 275.2, "titleY": 44.5, "titleAlign": "center", "titleBaseline": "middle", "titleFontSize": 22}},
            "y": {"field": "y", "type": "quantitative", "scale": {"domain": [-0.1, 1.16], "nice": false, "zero": false},
              "axis": {"orient": "left", "values": [0,0.15,0.3,0.45,0.6,0.75,0.9,1.05], "tickSize": {"condition": {"test": "round(datum.value*20)%6==0", "value": -9.3}, "value": -4.3},
                "labelExpr": "round(datum.value*20)%6==0 ? format(datum.value,'.1f') : ''", "labelPadding": 19.3, "title": null}}}},
        {"data": {"values": [{"x1":15.31,"x2":36.04,"y1":0.647,"y2":0.339}]}, "mark": {"type": "rect", "filled": false, "color": "#333333", "strokeWidth": 1.2},
          "encoding": {
            "x": {"field": "x1", "type": "quantitative", "axis": null},
            "x2": {"field": "x2"},
            "y": {"field": "y1", "type": "quantitative",
              "axis": {"orient": "right", "values": [0,0.15,0.3,0.45,0.6,0.75,0.9,1.05], "tickSize": {"condition": {"test": "round(datum.value*20)%6==0", "value": -9.3}, "value": -4.3}, "labels": false, "title": null}},
            "y2": {"field": "y2"}}},
        {"data": {"values": [{"tx":17.13,"ty":0.408,"label":"ATC1(6)T"}]}, "mark": {"type": "text", "align": "left", "baseline": "alphabetic", "font": "Liberation Serif", "fontSize": 19, "color": "#000000"},
          "encoding": {"x": {"field": "tx", "type": "quantitative", "axis": null}, "y": {"field": "ty", "type": "quantitative", "axis": null}, "text": {"field": "label"}}}
      ],
      "resolve": {"axis": {"x": "independent", "y": "independent"}}
    }
  ]
}
